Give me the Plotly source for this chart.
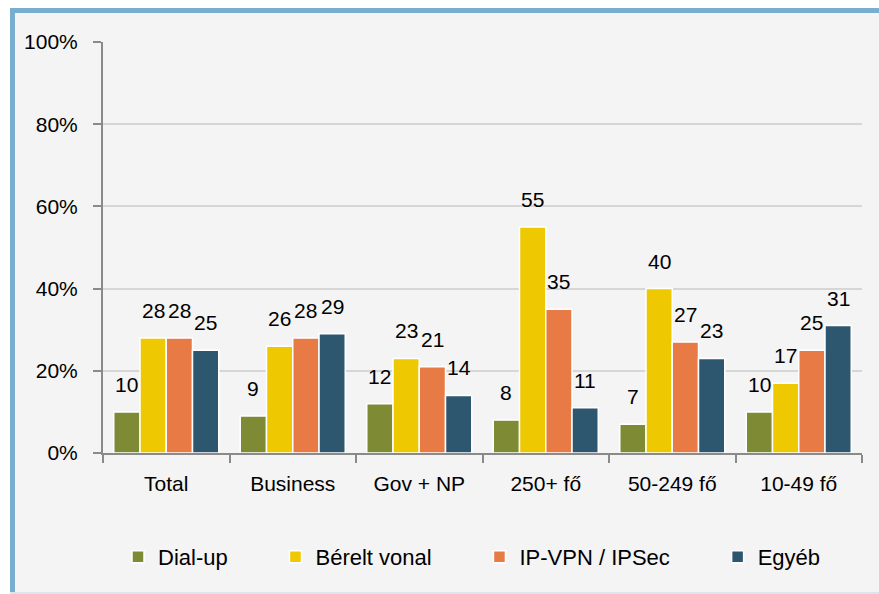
import plotly.graph_objects as go

# Survey shares (%) of connection types by organisation segment
categories = ["Total", "Business", "Gov + NP", "250+ fő", "50-249 fő", "10-49 fő"]
series_names = ["Dial-up", "Bérelt vonal", "IP-VPN / IPSec", "Egyéb"]
dial_up = [10, 9, 12, 8, 7, 10]
berelt_vonal = [28, 26, 23, 55, 40, 17]
ip_vpn = [28, 28, 21, 35, 27, 25]
egyeb = [25, 29, 14, 11, 23, 31]
y_ticks = [0, 20, 40, 60, 80, 100]
y_tick_labels = ["0%", "20%", "40%", "60%", "80%", "100%"]

series_values = [dial_up, berelt_vonal, ip_vpn, egyeb]
colors = ["#7e8b34", "#eec800", "#e77a45", "#2d566f"]

W, H = 879, 594
FONT = "Liberation Sans, Arial, sans-serif"
LABEL_SIZE = 21
LEGEND_SIZE = 22
BARGAP = 0.17

def px_x(p):
    return p / W

def px_y(p):
    return 1 - p / H

# trailing no-break spaces widen the legend entries to the wanted spacing
legend_pad = [7, 7, 7, 0]

fig = go.Figure()
for name, vals, col, pad in zip(series_names, series_values, colors, legend_pad):
    fig.add_trace(go.Bar(
        x=categories, y=vals, name=name + "\u00a0" * pad,
        marker=dict(color=col, line=dict(color="white", width=1.5)),
        hoverinfo="skip",
    ))

# value labels above each bar
n = len(series_names)
w = (1 - BARGAP) / n
annotations = []
for j, vals in enumerate(series_values):
    for i, v in enumerate(vals):
        annotations.append(dict(
            x=i + (j - (n - 1) / 2) * w, y=v, xref="x", yref="y",
            text=str(v), showarrow=False, yanchor="bottom", yshift=14,
            font=dict(family=FONT, size=LABEL_SIZE, color="#000000"),
        ))

shapes = [
    # panel background
    dict(type="rect", xref="paper", yref="paper", x0=px_x(10), x1=1,
         y0=px_y(592), y1=px_y(8), fillcolor="#f4f4f4", line=dict(width=0), layer="below"),
    # frame: left and top bands
    dict(type="rect", xref="paper", yref="paper", x0=px_x(10), x1=px_x(15),
         y0=px_y(592), y1=px_y(8), fillcolor="#7aaecf", line=dict(width=0), layer="below"),
    dict(type="rect", xref="paper", yref="paper", x0=px_x(10), x1=1,
         y0=px_y(13), y1=px_y(8), fillcolor="#7aaecf", line=dict(width=0), layer="below"),
    # thin bottom edge
    dict(type="rect", xref="paper", yref="paper", x0=px_x(10), x1=1,
         y0=px_y(594), y1=px_y(592), fillcolor="#dbe5ee", line=dict(width=0), layer="below"),
]

fig.update_layout(
    width=W, height=H,
    margin=dict(l=0, r=0, t=0, b=0, autoexpand=False),
    paper_bgcolor="white",
    plot_bgcolor="rgba(0,0,0,0)",
    barmode="group", bargap=BARGAP, bargroupgap=0,
    font=dict(family=FONT, size=LABEL_SIZE, color="#000000"),
    showlegend=True,
    legend=dict(orientation="h", x=px_x(118), xanchor="left", y=px_y(557), yanchor="middle",
                font=dict(family=FONT, size=LEGEND_SIZE), bgcolor="rgba(0,0,0,0)",
                traceorder="normal"),
    xaxis=dict(
        domain=[px_x(103), px_x(862)],
        type="category", tickson="boundaries",
        showgrid=False, showline=True, linecolor="#8a8a8a", linewidth=2,
        ticks="outside", ticklen=8, tickwidth=2, tickcolor="#8a8a8a",
        ticklabelstandoff=11,
        tickfont=dict(family=FONT, size=LABEL_SIZE),
        fixedrange=True,
    ),
    yaxis=dict(
        domain=[px_y(453), px_y(42)],
        range=[0, 100], tickvals=y_ticks, ticktext=y_tick_labels,
        showgrid=True, gridcolor="#d6d6d6", gridwidth=1.5,
        showline=True, linecolor="#8a8a8a", linewidth=2,
        ticks="outside", ticklen=8, tickwidth=2, tickcolor="#8a8a8a",
        ticklabelstandoff=11,
        tickfont=dict(family=FONT, size=LABEL_SIZE),
        zeroline=False, fixedrange=True,
    ),
    shapes=shapes,
    annotations=annotations,
)

fig.write_html("out.html")
